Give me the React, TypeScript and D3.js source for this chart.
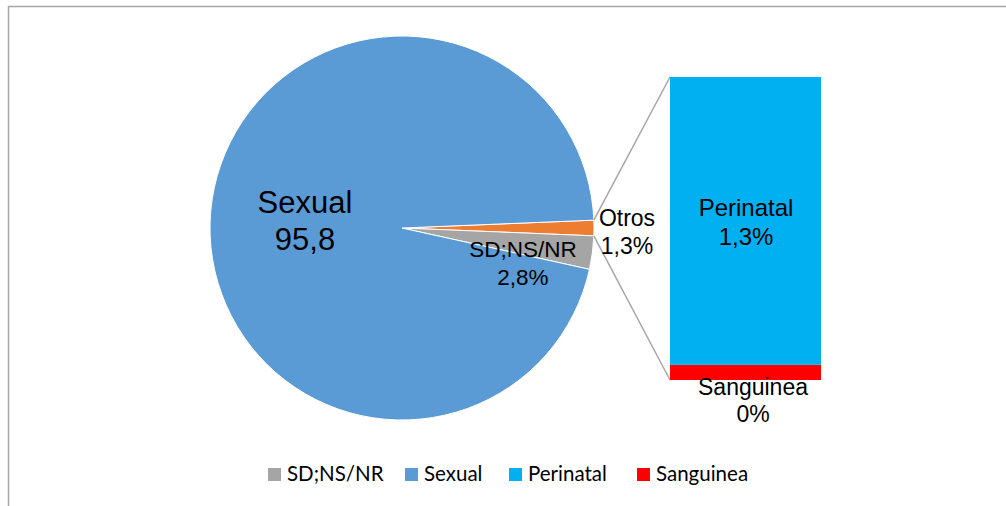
import React from "react";
import * as d3 from "d3";

const pieCategories = ["Otros", "SD;NS/NR", "Sexual"];
const pieValues = [1.3, 2.8, 95.8];
const pieLabels = ["Otros\n1,3%", "SD;NS/NR\n2,8%", "Sexual\n95,8"];
const pieColors = ["#ED7D31", "#A5A5A5", "#5B9BD5"];

const barCategories = ["Sanguinea", "Perinatal"];
const barValues = [0.065, 1.235];
const barLabels = ["Sanguinea\n0%", "Perinatal\n1,3%"];
const barColors = ["#FF0000", "#00B0F0"];

const legendItems = ["SD;NS/NR", "Sexual", "Perinatal", "Sanguinea"];
const legendColors = ["#A5A5A5", "#5B9BD5", "#00B0F0", "#FF0000"];

const W = 1006;
const H = 506;

export default function App() {
  const cx = 402;
  const cy = 228;
  const r = 192;
  const total = d3.sum(pieValues);
  const otrosAngle = (pieValues[0] / total) * 2 * Math.PI;
  const start = Math.PI / 2 - otrosAngle / 2;
  const pie = d3
    .pie<number>()
    .sort(null)
    .value((d) => d)
    .startAngle(start)
    .endAngle(start + 2 * Math.PI);
  const arcs = pie(pieValues);
  const arc = d3.arc<d3.PieArcDatum<number>>().innerRadius(0).outerRadius(r);

  // bar
  const barX0 = 670;
  const barX1 = 821;
  const barTotal = d3.sum(barValues);
  const y = d3.scaleLinear().domain([0, barTotal]).range([380, 77]);
  let acc = 0;
  const bars = barValues.map((v, i) => {
    const b = { y0: y(acc), y1: y(acc + v), i };
    acc += v;
    return b;
  });

  // connector points (d3 angle: 0 at top, clockwise)
  const pt = (a: number) => [cx + r * Math.sin(a), cy - r * Math.cos(a)];
  const pTop = pt(arcs[0].startAngle);
  const pBot = pt(arcs[0].endAngle);

  const labelFont = "'Liberation Sans', Arial, sans-serif";

  const pieLabelPos = [
    { x: 627, y: 226, size: 23, lh: 28 },
    { x: 523, y: 257, size: 22.5, lh: 27.5 },
    { x: 305, y: 213, size: 31, lh: 37 },
  ];
  const barLabelPos = [
    { x: 753, y: 395, size: 23, lh: 27 },
    { x: 746, y: 216, size: 24, lh: 29 },
  ];

  const legendSquareX = [268, 405, 509, 637];

  const renderLabel = (
    text: string,
    p: { x: number; y: number; size: number; lh: number },
    key: string
  ) => (
    <text
      key={key}
      x={p.x}
      y={p.y}
      textAnchor="middle"
      fontFamily={labelFont}
      fontSize={p.size}
      fill="#000"
    >
      {text.split("\n").map((t, j) => (
        <tspan key={j} x={p.x} dy={j === 0 ? 0 : p.lh}>
          {t}
        </tspan>
      ))}
    </text>
  );

  return (
    <svg
      width={W}
      height={H}
      style={{ position: "fixed", left: 0, top: 0, background: "#fff" }}
    >
      <rect x={0} y={0} width={W} height={H} fill="#fff" />
      {/* frame */}
      <path
        d={`M8.5,${H + 2} L8.5,6.5 L${W + 2},6.5`}
        fill="none"
        stroke="#A6A6A6"
        strokeWidth={1.5}
      />
      {/* pie */}
      <g transform={`translate(${cx},${cy})`}>
        {arcs.map((a, i) => (
          <path
            key={pieCategories[i]}
            d={arc(a) || ""}
            fill={pieColors[i]}
            stroke="#fff"
            strokeWidth={1}
          />
        ))}
      </g>
      {/* connectors */}
      <line
        x1={pTop[0]}
        y1={pTop[1]}
        x2={barX0}
        y2={y(barTotal)}
        stroke="#A6A6A6"
        strokeWidth={1.5}
      />
      <line
        x1={pBot[0]}
        y1={pBot[1]}
        x2={barX0}
        y2={y(0)}
        stroke="#A6A6A6"
        strokeWidth={1.5}
      />
      {/* stacked bar */}
      {bars.map((b) => (
        <rect
          key={barCategories[b.i]}
          x={barX0}
          y={b.y1}
          width={barX1 - barX0}
          height={b.y0 - b.y1}
          fill={barColors[b.i]}
        />
      ))}
      {/* labels */}
      {pieLabels.map((t, i) => renderLabel(t, pieLabelPos[i], "pl" + i))}
      {barLabels.map((t, i) => renderLabel(t, barLabelPos[i], "bl" + i))}
      {/* legend */}
      {legendItems.map((name, i) => (
        <g key={name}>
          <rect
            x={legendSquareX[i]}
            y={468}
            width={13}
            height={13}
            fill={legendColors[i]}
          />
          <text
            x={legendSquareX[i] + 19}
            y={480.5}
            fontFamily="Lato, 'Open Sans', sans-serif"
            fontSize={20.5}
            fill="#000"
          >
            {name}
          </text>
        </g>
      ))}
    </svg>
  );
}
